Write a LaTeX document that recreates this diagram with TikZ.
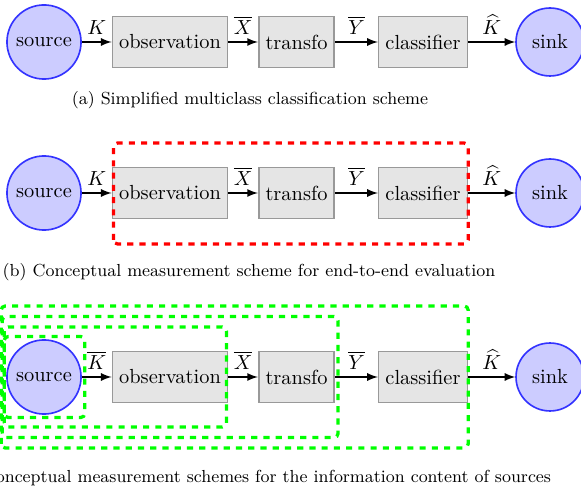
\documentclass[tikz,border=0pt]{standalone}
\usepackage{fontspec}
\usepackage{amsmath}
\usetikzlibrary{calc}
\tikzset{
  blockbox/.style={draw=gray!80, fill=gray!20, thick, minimum height=25pt},
  endpoint/.style={circle, draw=blue!80, fill=blue!20, thick, inner sep=0pt},
  flow/.style={->, >=latex, thick},
  measure/.style={ultra thick, dashed, rounded corners=2pt},
  captiontext/.style={font=\fontsize{8.55}{10}\selectfont}
}
% one row of the chain, #1 = label of the first arrow
\newcommand{\classchain}[1]{%
  \node[endpoint, minimum size=36.3pt] (src) at (44,0) {source};
  \node[blockbox] (obs) at (170,0) {observation};
  \node[blockbox] (tra) at (296.5,0) {transfo};
  \node[blockbox] (cls) at (423,0) {classifier};
  \node[endpoint, minimum size=33.3pt] (snk) at (550,0) {sink};
  \draw[flow] (src) -- node[above] {#1} (obs);
  \draw[flow] (obs) -- node[above] {$\overline{X}$} (tra);
  \draw[flow] (tra) -- node[above] {$\overline{Y}$} (cls);
  \draw[flow] (cls) -- node[above] {$\widehat{K}$} (snk);
}

\begin{document}
\begin{tikzpicture}[x=0.49pt, y=0.49pt]
\useasboundingbox (0,0) rectangle (581,493);

% Row A: simplified scheme
\begin{scope}[shift={(0,451)}]
    \classchain{$K$}
    \node[captiontext] (capa) at (250,-58) {(a) Simplified multiclass classification scheme};
\end{scope}

% Row B: end-to-end evaluation
\begin{scope}[shift={(0,300)}]
    \classchain{$K$}
    \draw[measure, red] ($(obs.west)+(2,-51)$) rectangle ($(cls.east)+(0,50)$);
    \node[captiontext] (capb) at (249,-79) {(b) Conceptual measurement scheme for end-to-end evaluation};
\end{scope}

% Row C: information content of sources
\begin{scope}[shift={(0,116)}]
    \classchain{$\overline{K}$}
    \draw[measure, green] ($(src.west)+(-2,-40.5)$) rectangle ($(src.east)+(3,40.5)$);
    \draw[measure, green] ($(src.west)+(-2,-50)$) rectangle ($(obs.east)+(-2,50)$);
    \draw[measure, green] ($(src.west)+(-4,-60.5)$) rectangle ($(tra.east)+(3,60.5)$);
    \draw[measure, green] ($(src.west)+(-5,-71)$) rectangle ($(cls.east)+(0,71)$);
    \node[captiontext] (capc) at (253,-101) {(c) Conceptual measurement schemes for the information content of sources};
\end{scope}
\end{tikzpicture}
\end{document}
